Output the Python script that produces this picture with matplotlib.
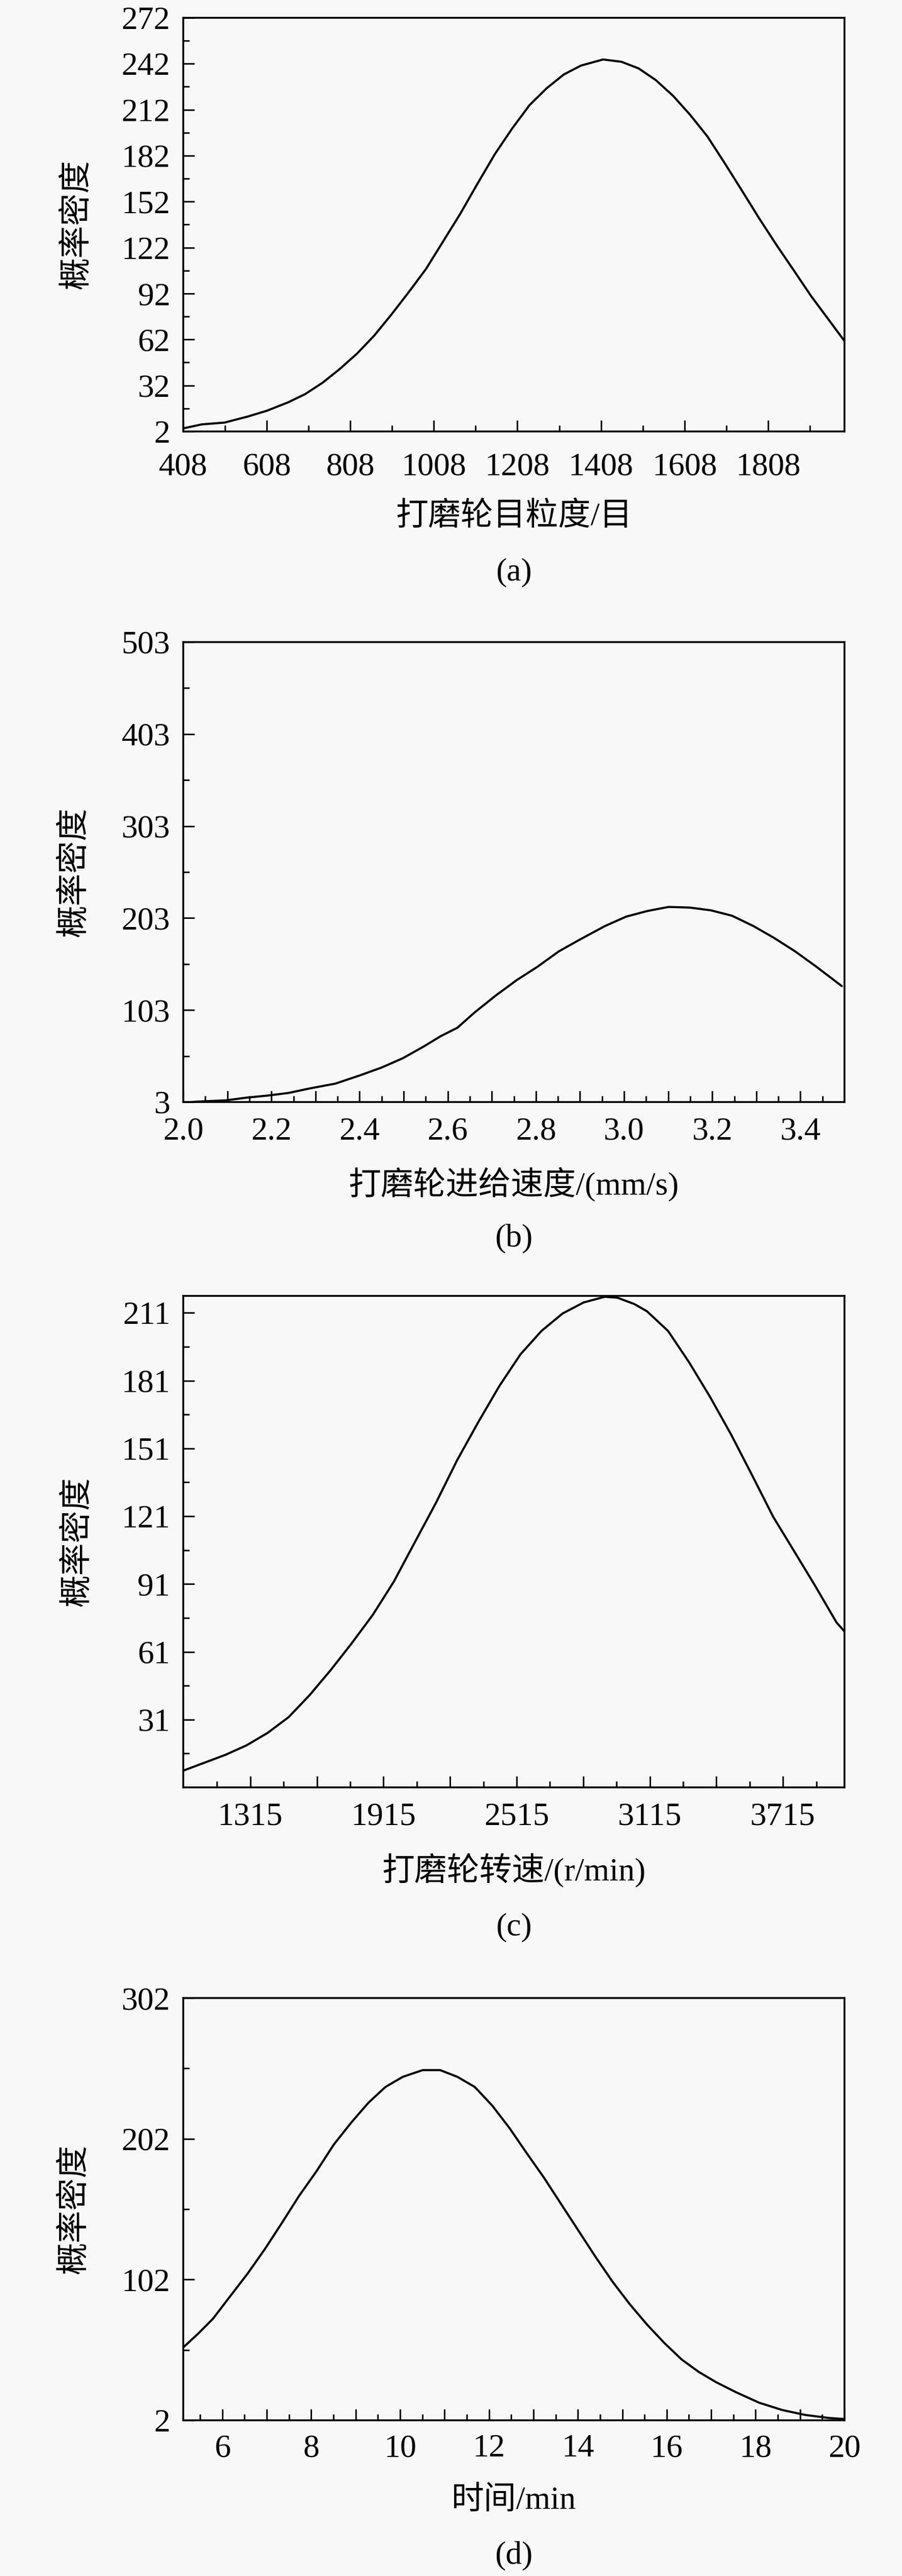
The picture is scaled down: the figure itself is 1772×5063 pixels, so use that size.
import matplotlib
matplotlib.use('Agg')
import matplotlib.pyplot as plt
from matplotlib.ticker import FixedLocator, FixedFormatter

plt.rcParams['font.family'] = ['Liberation Serif', 'Noto Sans CJK SC', 'DejaVu Sans']

# ---------------- data ----------------
ylabel_text = '概率密度'

# (a)
a_x = [408, 452, 507, 562, 608, 659, 700, 741, 782, 824, 865, 906, 948, 989, 1030,
       1071, 1113, 1154, 1195, 1237, 1278, 1319, 1360, 1413, 1457, 1498, 1539,
       1581, 1622, 1663, 1705, 1746, 1787, 1829, 1870, 1911, 1953, 1991]
a_y = [4, 6.6, 7.8, 11.7, 15.5, 21, 26.4, 33.7, 42.6, 52.8, 64.5, 78.2, 93, 108,
       126, 144, 164, 183, 199.6, 215, 226, 235, 240.8, 244.8, 243.3, 239, 231.4,
       221, 208.5, 194.5, 176.8, 159, 141, 123.4, 107, 90.4, 75, 61]
a_xticks = [408, 608, 808, 1008, 1208, 1408, 1608, 1808]
a_xticklabels = ['408', '608', '808', '1008', '1208', '1408', '1608', '1808']
a_xminor = [508, 708, 908, 1108, 1308, 1508, 1708, 1908]
a_yticks = [2, 32, 62, 92, 122, 152, 182, 212, 242, 272]
a_yminor = [17, 47, 77, 107, 137, 167, 197, 227, 257]
a_xlim = (408, 1991)
a_ylim = (2, 272)
a_xlabel = '打磨轮目粒度/目'
a_caption = '(a)'

# (b)
b_x = [2.0, 2.038, 2.096, 2.144, 2.191, 2.239, 2.287, 2.345, 2.402, 2.45, 2.498,
       2.546, 2.584, 2.622, 2.661, 2.709, 2.756, 2.804, 2.852, 2.9, 2.957, 3.005,
       3.053, 3.101, 3.149, 3.197, 3.245, 3.293, 3.34, 3.388, 3.436, 3.494]
b_y = [2.5, 3.6, 4.8, 7.8, 10, 12.9, 17.8, 23, 32.2, 40.5, 50.6, 63.5, 74.6, 83.8,
       100.4, 118.8, 135.4, 150.2, 166.8, 179.7, 194.4, 204.6, 210.7, 215.1, 214.4,
       211.4, 205.5, 194.4, 181.5, 166.8, 150.2, 129]
b_xticks = [2.0, 2.1, 2.2, 2.3, 2.4, 2.5, 2.6, 2.7, 2.8, 2.9, 3.0, 3.1, 3.2, 3.3, 3.4]
b_xticklabels = ['2.0', '', '2.2', '', '2.4', '', '2.6', '', '2.8', '', '3.0', '',
                 '3.2', '', '3.4']
b_xminor = [2.05, 2.15, 2.25, 2.35, 2.45, 2.55, 2.65, 2.75, 2.85, 2.95, 3.05,
            3.15, 3.25, 3.35, 3.45]
b_yticks = [3, 103, 203, 303, 403, 503]
b_yminor = [53, 153, 253, 353, 453]
b_xlim = (2.0, 3.5)
b_ylim = (3, 503)
b_xlabel = '打磨轮进给速度/(mm/s)'
b_caption = '(b)'

# (c)
c_x = [1013, 1108, 1203, 1298, 1393, 1488, 1583, 1678, 1773, 1868, 1962, 2057,
       2152, 2247, 2342, 2437, 2532, 2627, 2722, 2817, 2912, 2969, 3045, 3102,
       3197, 3292, 3387, 3482, 3577, 3671, 3766, 3861, 3956, 3992]
c_y = [8.4, 11.9, 15.4, 19.6, 25.1, 32.1, 41.9, 53, 64.9, 77.5, 92.1, 109.6, 127,
       145.8, 162.6, 178.6, 192.6, 203, 210.7, 215.6, 218.1, 217.7, 214.9, 211.7,
       203, 189.1, 173.7, 157, 138.9, 120.7, 105.4, 90, 74, 70]
c_xticks = [1315, 1615, 1915, 2215, 2515, 2815, 3115, 3415, 3715]
c_xticklabels = ['1315', '', '1915', '', '2515', '', '3115', '', '3715']
c_xminor = [1165, 1465, 1765, 2065, 2365, 2665, 2965, 3265, 3565, 3865]
c_yticks = [31, 61, 91, 121, 151, 181, 211]
c_yminor = [16, 46, 76, 106, 136, 166, 196]
c_xlim = (1013, 3992)
c_ylim = (1, 218.5)
c_xlabel = '打磨轮转速/(r/min)'
c_caption = '(c)'

# (d)
d_x = [5.12, 5.47, 5.79, 6.18, 6.57, 6.96, 7.35, 7.73, 8.12, 8.51, 8.9, 9.29,
       9.67, 10.06, 10.51, 10.9, 11.29, 11.68, 12.07, 12.46, 12.84, 13.23, 13.62,
       14.01, 14.4, 14.78, 15.17, 15.56, 15.95, 16.34, 16.72, 17.11, 17.57, 18.08,
       18.6, 19.12, 19.64, 20.0]
d_y = [53.8, 64, 74.2, 90.3, 106.3, 123.8, 142.7, 161.6, 179, 198, 213.5, 227.7,
       238.8, 246, 250.8, 250.8, 246, 238.8, 225.7, 209.7, 192.2, 174.7, 155.8,
       136.9, 118, 100.5, 84.4, 69.9, 56.8, 45.1, 36.4, 29.1, 21.8, 14.5, 9.3,
       5.8, 3.7, 2.9]
d_xticks = [6, 7, 8, 9, 10, 11, 12, 13, 14, 15, 16, 17, 18, 19, 20]
d_xticklabels = ['6', '', '8', '', '10', '', '12', '', '14', '', '16', '', '18', '', '20']
d_xminor = [5.5, 6.5, 7.5, 8.5, 9.5, 10.5, 11.5, 12.5, 13.5, 14.5, 15.5, 16.5,
            17.5, 18.5, 19.5]
d_yticks = [2, 102, 202, 302]
d_yminor = [52, 152, 252]
d_xlim = (5.12, 20.0)
d_ylim = (2, 302)
d_xlabel = '时间/min'
d_caption = '(d)'

# ---------------- layout ----------------
W, H, DPI = 1772, 5063, 100
BG = '#f8f8f8'
FS = 46

fig = plt.figure(figsize=(W / DPI, H / DPI), dpi=DPI, facecolor=BG)

panels = [
    # data, box (left, right, top, bottom) px, xpad(pt), xlabel_y px, caption_y px, ylabel_x px
    (dict(x=a_x, y=a_y, xt=a_xticks, xtl=a_xticklabels, xm=a_xminor, yt=a_yticks,
          ym=a_yminor, xl=a_xlim, yl=a_ylim, xlab=a_xlabel, cap=a_caption),
     (360, 1659, 35, 848), 30, 1016, 1125, 152),
    (dict(x=b_x, y=b_y, xt=b_xticks, xtl=b_xticklabels, xm=b_xminor, yt=b_yticks,
          ym=b_yminor, xl=b_xlim, yl=b_ylim, xlab=b_xlabel, cap=b_caption),
     (360, 1659, 1262, 2166), 21, 2328, 2435, 147),
    (dict(x=c_x, y=c_y, xt=c_xticks, xtl=c_xticklabels, xm=c_xminor, yt=c_yticks,
          ym=c_yminor, xl=c_xlim, yl=c_ylim, xlab=c_xlabel, cap=c_caption),
     (360, 1659, 2547, 3513), 21, 3677, 3788, 153),
    (dict(x=d_x, y=d_y, xt=d_xticks, xtl=d_xticklabels, xm=d_xminor, yt=d_yticks,
          ym=d_yminor, xl=d_xlim, yl=d_ylim, xlab=d_xlabel, cap=d_caption),
     (360, 1659, 3927, 4757), 19.5, 4916, 5024, 147),
]

for p, (l, r, t, b), xpad, xlab_y, cap_y, ylab_x in panels:
    ax = fig.add_axes([l / W, 1 - b / H, (r - l) / W, (b - t) / H])
    ax.set_facecolor(BG)
    ax.plot(p['x'], p['y'], color='black', lw=3.0, solid_capstyle='round',
            solid_joinstyle='round', clip_on=True)
    ax.set_xlim(*p['xl'])
    ax.set_ylim(*p['yl'])

    ax.xaxis.set_major_locator(FixedLocator(p['xt']))
    ax.xaxis.set_major_formatter(FixedFormatter(p['xtl']))
    ax.xaxis.set_minor_locator(FixedLocator(p['xm']))
    ax.yaxis.set_major_locator(FixedLocator(p['yt']))
    ax.yaxis.set_major_formatter(FixedFormatter([str(v) for v in p['yt']]))
    ax.yaxis.set_minor_locator(FixedLocator(p['ym']))

    for s in ax.spines.values():
        s.set_linewidth(2.6)
        s.set_color('black')

    ax.tick_params(which='both', direction='in', top=False, right=False,
                   width=2.2, color='black', labelsize=FS)
    ax.tick_params(which='major', length=15.5)
    ax.tick_params(which='minor', length=8.5)
    ax.tick_params(axis='x', which='major', pad=xpad)
    ax.tick_params(axis='y', which='major', pad=18.5)

    h = b - t
    w = r - l
    ax.set_xlabel(p['xlab'], fontsize=FS, va='center')
    ax.xaxis.set_label_coords(0.5, (b - xlab_y) / h)
    ax.set_ylabel(ylabel_text, fontsize=FS, va='center', ha='center')
    ax.yaxis.set_label_coords((ylab_x - l) / w, 0.5)
    ax.text(0.5, (b - cap_y) / h, p['cap'], transform=ax.transAxes,
            ha='center', va='center', fontsize=FS)

fig.savefig('out.png', dpi=DPI, facecolor=BG)
